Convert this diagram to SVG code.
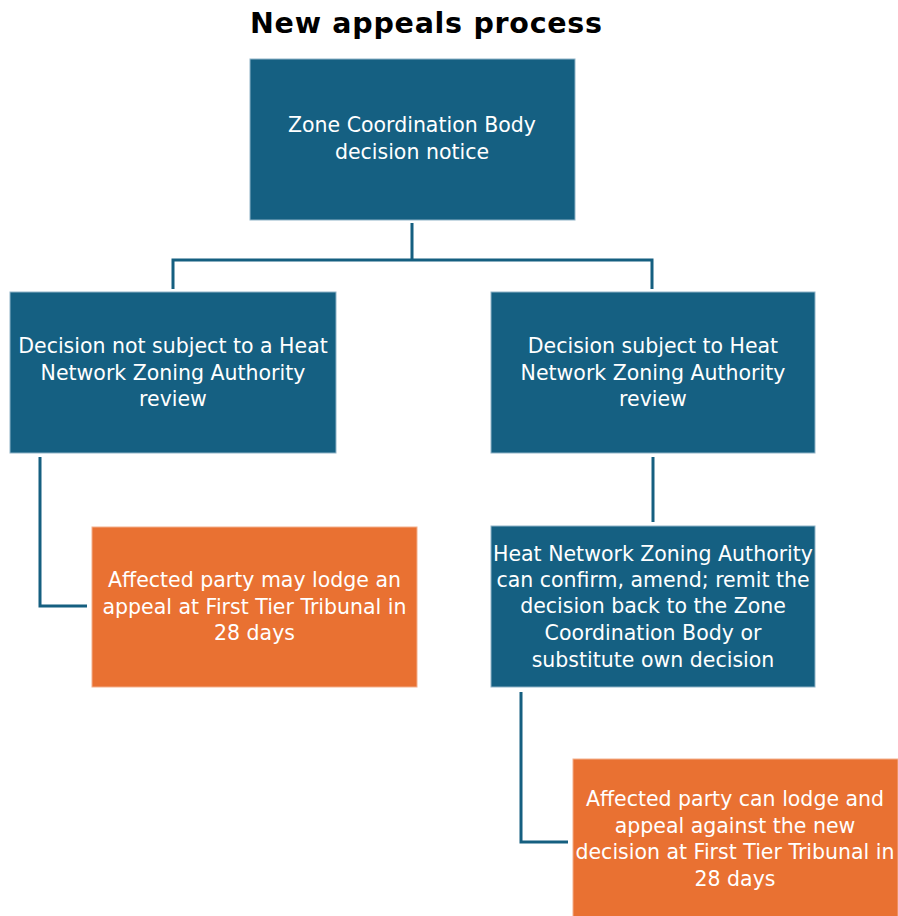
<svg xmlns="http://www.w3.org/2000/svg" width="898" height="916" viewBox="0 0 898 916">
<style>
.blue{fill:#156082;stroke:#8fb3c7;stroke-width:1}
.orange{fill:#E97132;stroke:#f3b08c;stroke-width:1}
.t{font-family:"DejaVu Sans","Liberation Sans",sans-serif;font-size:20.5px;fill:#ffffff;text-anchor:middle}
.title{font-family:"DejaVu Sans","Liberation Sans",sans-serif;font-size:28.5px;font-weight:bold;fill:#000000;text-anchor:middle}
.conn{fill:none;stroke:#155f80;stroke-width:3}
</style>
<rect width="898" height="916" fill="#ffffff"/>
<text class="title" x="426" y="33" textLength="352" lengthAdjust="spacing">New appeals process</text>
<g id="connectors">
<path class="conn" d="M412 223 V260 M173 289 V260 H652 V289"/>
<path class="conn" d="M40 457 V606 H87"/>
<path class="conn" d="M653 457 V522"/>
<path class="conn" d="M521 692 V842 H568"/>
</g>
<g id="n1">
<rect class="blue" x="250" y="59" width="325" height="161"/>
<text class="t" x="412" y="132">Zone Coordination Body</text>
<text class="t" x="412" y="159">decision notice</text>
</g>
<g id="n2">
<rect class="blue" x="10" y="292" width="326" height="161"/>
<text class="t" x="173" y="353">Decision not subject to a Heat</text>
<text class="t" x="173" y="380">Network Zoning Authority</text>
<text class="t" x="173" y="406">review</text>
</g>
<g id="n3">
<rect class="blue" x="491" y="292" width="324" height="161"/>
<text class="t" x="653" y="353">Decision subject to Heat</text>
<text class="t" x="653" y="380">Network Zoning Authority</text>
<text class="t" x="653" y="406">review</text>
</g>
<g id="n4">
<rect class="orange" x="92" y="527" width="325" height="160"/>
<text class="t" x="254.5" y="587">Affected party may lodge an</text>
<text class="t" x="254.5" y="614">appeal at First Tier Tribunal in</text>
<text class="t" x="254.5" y="640">28 days</text>
</g>
<g id="n5">
<rect class="blue" x="491" y="526" width="324" height="161"/>
<text class="t" x="653" y="561">Heat Network Zoning Authority</text>
<text class="t" x="653" y="587">can confirm, amend; remit the</text>
<text class="t" x="653" y="613">decision back to the Zone</text>
<text class="t" x="653" y="640">Coordination Body or</text>
<text class="t" x="653" y="667">substitute own decision</text>
</g>
<g id="n6">
<rect class="orange" x="573" y="759" width="325" height="160"/>
<text class="t" x="735" y="806">Affected party can lodge and</text>
<text class="t" x="735" y="833">appeal against the new</text>
<text class="t" x="735" y="859">decision at First Tier Tribunal in</text>
<text class="t" x="735" y="886">28 days</text>
</g>
</svg>
